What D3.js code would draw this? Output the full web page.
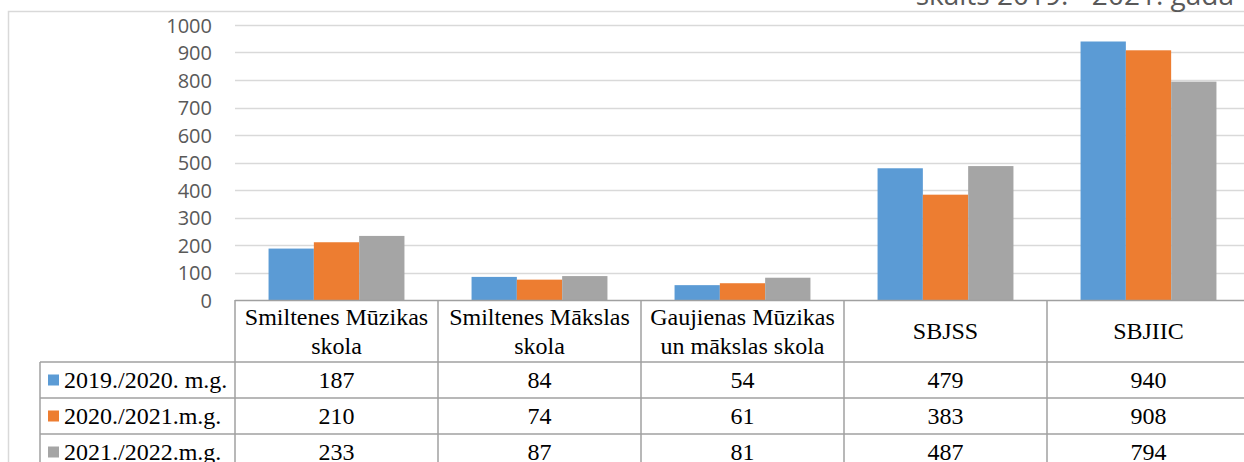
<!DOCTYPE html>
<html><head><meta charset="utf-8">
<script src="https://cdn.jsdelivr.net/npm/d3@7"></script>
<style>html,body{margin:0;padding:0;background:#fff;overflow:hidden}</style>
</head><body>
<svg id="c" width="1244" height="462"></svg>
<script>
const categories = [["Smiltenes Mūzikas","skola"],["Smiltenes Mākslas","skola"],["Gaujienas Mūzikas","un mākslas skola"],["SBJSS"],["SBJIIC"]];
const seriesNames = ["2019./2020. m.g.","2020./2021.m.g.","2021./2022.m.g."];
const s2019 = [187,84,54,479,940];
const s2020 = [210,74,61,383,908];
const s2021 = [233,87,81,487,794];
const colors = ["#5b9bd5","#ed7d31","#a5a5a5"];
const yTicks = [0,100,200,300,400,500,600,700,800,900,1000];
const titleText = "skaits 2019. - 2021. gadā";

const series = [s2019,s2020,s2021];
const svg = d3.select("#c");
const x0 = 235, x1 = 1250, yTop = 25, yBot = 300;
const x = d3.scaleBand().domain(d3.range(categories.length)).range([x0,x1]).paddingInner(0).paddingOuter(0);
const bw = 45.3;
const xs = d3.scaleBand().domain(d3.range(series.length)).range([0, bw*3]);
const y = d3.scaleLinear().domain([0,1000]).range([yBot,yTop]);
const SERIF = "font-family:'Liberation Serif','Times New Roman','DejaVu Serif',serif";
const FS = 24;

svg.append("path").attr("d","M8.5,462 L8.5,11.5 L1244,11.5").attr("fill","none").attr("stroke","#d9d9d9").attr("stroke-width",1.5);
svg.append("text").attr("x",1234).attr("y",5).attr("text-anchor","end")
  .attr("font-family","Open Sans").attr("font-size",28).attr("fill","#595959").text(titleText);

svg.append("g").selectAll("line").data(yTicks.filter(d=>d>0)).join("line")
  .attr("x1",x0).attr("x2",1244).attr("y1",d=>Math.round(y(d))+0.5).attr("y2",d=>Math.round(y(d))+0.5)
  .attr("stroke","#d9d9d9").attr("stroke-width",1.3);

const yAxis = d3.axisLeft(y).tickValues(yTicks).tickFormat(d3.format("d")).tickSize(0).tickPadding(0);
const ga = svg.append("g").attr("transform",`translate(212,0)`).call(yAxis);
ga.select(".domain").remove();
ga.selectAll("text").attr("font-family","Open Sans").attr("font-size",20).attr("fill","#595959").attr("dy","0.36em");

categories.forEach((c,i)=>{
  const cx = x(i) + x.bandwidth()/2 - bw*1.5;
  svg.append("g").selectAll("rect").data(series.map((s,k)=>({k,v:s[i]}))).join("rect")
    .attr("x",d=>cx+xs(d.k)).attr("width",xs.bandwidth())
    .attr("y",d=>y(d.v)).attr("height",d=>yBot-y(d.v))
    .attr("fill",d=>colors[d.k]);
});

const tcol = "#a0a0a0";
const hdrBot = 362, rowH = 36, legX = 40;
const tg = svg.append("g").attr("style",SERIF);
tg.append("line").attr("x1",x0).attr("x2",1250).attr("y1",yBot+0.5).attr("y2",yBot+0.5).attr("stroke",tcol).attr("stroke-width",1.5);
categories.forEach((c,i)=>{
  tg.append("line").attr("x1",x(i)).attr("x2",x(i)).attr("y1",yBot).attr("y2",462).attr("stroke",tcol).attr("stroke-width",1.5);
});
tg.append("line").attr("x1",legX).attr("x2",legX).attr("y1",hdrBot).attr("y2",462).attr("stroke",tcol).attr("stroke-width",1.5);
for(let r=0;r<series.length;r++){
  const yy = hdrBot + r*rowH;
  tg.append("line").attr("x1",legX).attr("x2",1250).attr("y1",yy).attr("y2",yy).attr("stroke",tcol).attr("stroke-width",1.5);
}
categories.forEach((c,i)=>{
  const cx = x(i)+x.bandwidth()/2;
  const cy = (yBot+hdrBot)/2;
  const lh = 29;
  c.forEach((line,j)=>{
    tg.append("text").attr("style",SERIF).attr("x",cx).attr("y",cy + (j-(c.length-1)/2)*lh).attr("dy","0.35em")
      .attr("text-anchor","middle").attr("font-size",FS).attr("fill","#000").text(line);
  });
});
series.forEach((s,k)=>{
  const cy = hdrBot + k*rowH + rowH/2;
  tg.append("rect").attr("x",48).attr("y",cy-5.5).attr("width",11).attr("height",11).attr("fill",colors[k]);
  tg.append("text").attr("style",SERIF).attr("x",64).attr("y",cy).attr("dy","0.35em").attr("font-size",FS).attr("fill","#000").text(seriesNames[k]);
  s.forEach((v,i)=>{
    tg.append("text").attr("style",SERIF).attr("x",x(i)+x.bandwidth()/2).attr("y",cy).attr("dy","0.35em").attr("text-anchor","middle")
      .attr("font-size",FS).attr("fill","#000").text(v);
  });
});
</script>
</body></html>
